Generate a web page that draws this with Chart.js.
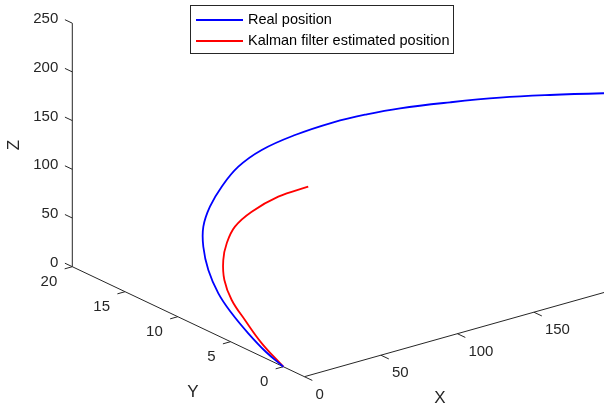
<!DOCTYPE html>
<html>
<head>
<meta charset="utf-8">
<script src="https://cdn.jsdelivr.net/npm/chart.js@4.4.0/dist/chart.umd.min.js"></script>
<style>
  body { margin: 0; background: #fff; }
  #wrap { width: 604px; height: 408px; }
</style>
</head>
<body>
<div id="wrap"><canvas id="myChart" width="604" height="408"></canvas></div>
<script>
// real trajectory (x, y, z)
var realX = [0, 2.5, 3.3, 4.9, 7.2, 10.3, 15.3, 22.9, 34.1, 48, 64.4, 84.5, 111.1, 140.3, 165.6, 190.1, 226.2, 261.6, 296.3, 333.3, 365.2];
var realY = [0, 2.0, 3.8, 5.6, 7.2, 8.6, 9.8, 10.9, 11.9, 12.8, 13.6, 14.3, 15, 15.6, 16.1, 16.5, 17, 17.4, 17.7, 18, 18.2];
var realZ = [0, 3.7, 13.3, 23.9, 35.2, 50.6, 66.1, 77.7, 88.1, 97.9, 107.1, 111.8, 111.8, 108.9, 103.4, 96.7, 84.3, 71.4, 57.3, 41.2, 26.9];

// kalman estimate
var kalX = [0, 1.8, 2.5, 3.5, 6.3, 11.1, 18.2, 27.7, 42.8, 64.3, 88];
var kalY = [0, 2.3, 4.0, 5.4, 6.5, 7.3, 8.0, 8.6, 9.2, 9.8, 10.4];
var kalZ = [0, 11.4, 26.3, 39.2, 52.9, 67.1, 77.6, 87.4, 93, 95.9, 92.6];

var xTicks = [0, 50, 100, 150, 200];
var yTicks = [0, 5, 10, 15, 20];
var zTicks = [0, 50, 100, 150, 200, 250];
var xLim = [0, 200], yLim = [-2, 20], zLim = [0, 250];

var seriesNames = ['Real position', 'Kalman filter estimated position'];

// view of the 3d box
var O = { x: 283.3, y: 366.7 };
var EX = { x: 1.53, y: -0.43 };
var EY = { x: -10.55, y: -5.0 };
var EZ = { x: 0, y: -0.974 };

function proj(x, y, z) {
  return {
    x: O.x + x * EX.x + y * EY.x + z * EZ.x,
    y: O.y + x * EX.y + y * EY.y + z * EZ.y
  };
}

function toPoints(xs, ys, zs) {
  var out = [];
  for (var i = 0; i < xs.length; i++) out.push(proj(xs[i], ys[i], zs[i]));
  return out;
}

var axisColor = '#262626';
var font = '"Liberation Sans", Arial, sans-serif';

var axes3d = {
  id: 'axes3d',
  beforeDatasetsDraw: function (chart) {
    var ctx = chart.ctx, sx = chart.scales.x, sy = chart.scales.y;
    function P(x, y, z) {
      var p = proj(x, y, z);
      return { x: sx.getPixelForValue(p.x), y: sy.getPixelForValue(p.y) };
    }
    function seg(a, b) {
      ctx.beginPath(); ctx.moveTo(a.x, a.y); ctx.lineTo(b.x, b.y); ctx.stroke();
    }
    ctx.save();
    ctx.strokeStyle = axisColor;
    ctx.lineWidth = 1;
    ctx.fillStyle = axisColor;
    ctx.font = '15px ' + font;

    // X axis
    seg(P(xLim[0], yLim[0], 0), P(xLim[1], yLim[0], 0));
    ctx.textAlign = 'left'; ctx.textBaseline = 'middle';
    xTicks.forEach(function (v) {
      var a = P(v, yLim[0], 0), b = P(v, yLim[0] - 0.75, 0);
      seg(a, b);
      ctx.fillText(String(v), a.x + 11, a.y + 18);
    });
    // Y axis
    seg(P(0, yLim[0], 0), P(0, yLim[1], 0));
    ctx.textAlign = 'right';
    yTicks.forEach(function (v) {
      var a = P(0, v, 0), b = P(-5, v, 0);
      seg(a, b);
      ctx.fillText(String(v), a.x - 15, a.y + 15.5);
    });
    // Z axis
    seg(P(0, yLim[1], zLim[0]), P(0, yLim[1], zLim[1]));
    zTicks.forEach(function (v) {
      var a = P(0, yLim[1], v), b = P(0, yLim[1] + 0.7, v);
      seg(a, b);
      ctx.fillText(String(v), a.x - 14, a.y - 4);
    });

    // axis titles
    ctx.font = '17px ' + font;
    ctx.textAlign = 'center';
    ctx.fillText('X', 440, 398);
    ctx.fillText('Y', 193, 392);
    ctx.save();
    ctx.translate(14, 145);
    ctx.rotate(-Math.PI / 2);
    ctx.fillText('Z', 0, 0);
    ctx.restore();
    ctx.restore();
  },
  afterDraw: function (chart) {
    var ctx = chart.ctx;
    ctx.save();
    ctx.fillStyle = '#fff';
    ctx.fillRect(190.5, 5.5, 263, 48);
    ctx.strokeStyle = axisColor;
    ctx.lineWidth = 1;
    ctx.strokeRect(190.5, 5.5, 263, 48);
    ctx.font = '14.5px ' + font;
    ctx.textAlign = 'left';
    ctx.textBaseline = 'middle';
    chart.data.datasets.forEach(function (ds, i) {
      var y = 20 + i * 21;
      ctx.strokeStyle = ds.borderColor;
      ctx.lineWidth = 1.8;
      ctx.beginPath(); ctx.moveTo(196, y); ctx.lineTo(243, y); ctx.stroke();
      ctx.fillStyle = '#000';
      ctx.fillText(ds.label, 248, y);
    });
    ctx.restore();
  }
};

new Chart(document.getElementById('myChart'), {
  type: 'scatter',
  data: {
    datasets: [{
      label: seriesNames[0],
      data: toPoints(realX, realY, realZ),
      showLine: true,
      borderColor: 'rgb(0, 0, 255)',
      borderWidth: 1.8,
      pointRadius: 0,
      tension: 0.4
    }, {
      label: seriesNames[1],
      data: toPoints(kalX, kalY, kalZ),
      showLine: true,
      borderColor: 'rgb(255, 0, 0)',
      borderWidth: 1.8,
      pointRadius: 0,
      tension: 0.4
    }]
  },
  options: {
    responsive: false,
    animation: false,
    layout: { padding: 0 },
    plugins: { legend: { display: false }, tooltip: { enabled: false } },
    scales: {
      x: { type: 'linear', min: 0, max: 604, display: false },
      y: { type: 'linear', min: 0, max: 408, reverse: true, display: false }
    }
  },
  plugins: [axes3d]
});
</script>
</body>
</html>
